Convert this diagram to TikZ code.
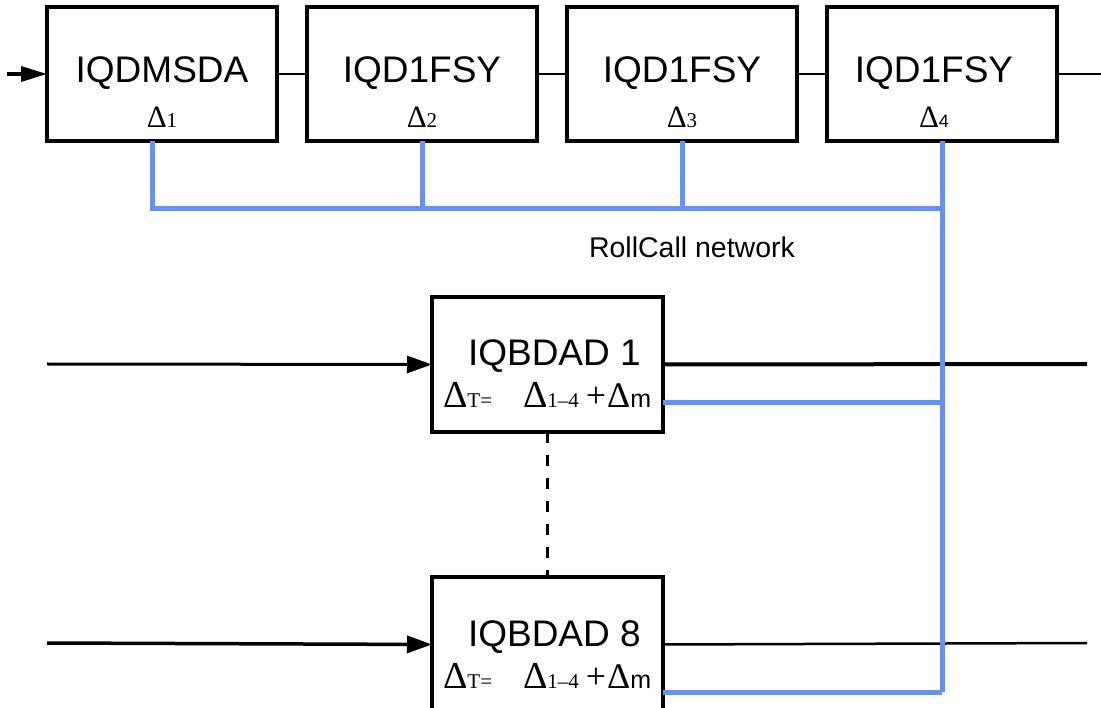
\documentclass[tikz,border=0pt]{standalone}
\usepackage{fontspec}
\setmainfont{Liberation Serif}
\setsansfont{Liberation Sans}
\usetikzlibrary{arrows.meta}
\definecolor{netblue}{RGB}{98,146,255}
\newcommand{\fs}[1]{\fontsize{#1}{#1}\selectfont}

\begin{document}
\begin{tikzpicture}[x=1pt,y=1pt,
    every node/.style={inner sep=0,outer sep=0},
    unit/.style={draw,line width=3.5pt,minimum width=230pt,minimum height=134pt},
    unitname/.style={font=\sffamily\fs{37},anchor=base},
    wire/.style={line width=2.5pt},
    feed/.style={line width=3pt,-{Triangle[length=25pt,width=17pt]}},
    net/.style={netblue,line width=5pt}]
    \useasboundingbox (0,0) rectangle (1101,-708);
    \clip (0,0) rectangle (1101,-708);
    % sources
    \node[unit](t1) at (162,-74) {};
    \node[unit](t2) at (422,-74) {};
    \node[unit](t3) at (682,-74) {};
    \node[unit](t4) at (942,-74) {};
    \node[unitname] at ([yshift=-9pt]t1.center) {IQDMSDA};
    \node[unitname] at ([yshift=-9pt]t2.center) {IQD1FSY};
    \node[unitname] at ([yshift=-9pt]t3.center) {IQD1FSY};
    \node[unitname] at ([xshift=-8pt,yshift=-9pt]t4.center) {IQD1FSY};
    \node[anchor=base] at ([yshift=-54pt]t1.center) {\fs{31}Δ\fs{21}1};
    \node[anchor=base] at ([yshift=-54pt]t2.center) {\fs{31}Δ\fs{21}2};
    \node[anchor=base] at ([yshift=-54pt]t3.center) {\fs{31}Δ\fs{21}3};
    \node[anchor=base] at ([xshift=-8pt,yshift=-54pt]t4.center) {\fs{31}Δ\sffamily\fs{18}4};
    \coordinate(src) at (7,-74);
    \coordinate(out) at (1101,-74);
    \draw[line width=3.5pt,-{Triangle[length=26pt,width=15pt]}] (src) -- (t1.west);
    \draw[wire] (t1.east) -- (t2.west);
    \draw[wire] (t2.east) -- (t3.west);
    \draw[wire] (t3.east) -- (t4.west);
    \draw[wire] (t4.east) -- (out);
    % deskew units
    \node[unit,minimum width=231pt,minimum height=135pt](b1) at (547.5,-364.5) {};
    \node[unit,minimum width=231pt,minimum height=135pt](b8) at (547.5,-644.5) {};
    \node[unitname,anchor=base west] at ([xshift=36pt,yshift=-1.5pt]b1.west) {IQBDAD 1};
    \node[unitname,anchor=base west] at ([xshift=36pt,yshift=-1.5pt]b8.west) {IQBDAD 8};
    \node[anchor=base west] at ([xshift=11pt,yshift=-43.5pt]b1.west) {\fs{38}Δ\fs{21}T=};
    \node[anchor=base west] at ([xshift=91pt,yshift=-43.5pt]b1.west)
        {\fs{38}Δ\fs{21}1–4\hspace{7pt}\fs{36}+\hspace{1pt}Δ\sffamily\fs{25}m};
    \node[anchor=base west] at ([xshift=11pt,yshift=-43.5pt]b8.west) {\fs{38}Δ\fs{21}T=};
    \node[anchor=base west] at ([xshift=91pt,yshift=-43.5pt]b8.west)
        {\fs{38}Δ\fs{21}1–4\hspace{7pt}\fs{36}+\hspace{1pt}Δ\sffamily\fs{25}m};
    \coordinate(a1) at (47,-364);
    \coordinate(a8) at (47,-643);
    \coordinate(o1) at (1087,-364);
    \coordinate(o8) at (1087,-643);
    \draw[feed] (a1) -- (b1.west);
    \draw[feed,line width=3.5pt] (a8) -- (b8.west);
    \draw[line width=4pt] (b1.east) -- (o1);
    \draw[wire] (b8.east) -- (o8);
    \draw[line width=3pt,dash pattern=on 11pt off 12pt] (b1.south) -- (b8.north);
    % RollCall network
    \coordinate(n1) at (152,-209);
    \coordinate(n4) at (942,-209);
    \coordinate(j1) at (942,-403);
    \coordinate(j8) at (942,-692);
    \draw[net] ([xshift=-10pt]t1.south) -- (n1) -- (n4);
    \draw[net] (t2.south) -- (t2.south |- n1);
    \draw[net] (t3.south) -- (t3.south |- n1);
    \draw[net] (t4.south) -- (j8);
    \draw[net] (b1.east |- j1) -- (j1);
    \draw[net] (b8.east |- j8) -- (j8);
    \node[font=\sffamily\fs{28.5},anchor=base] (rc) at (692,-258) {RollCall network};
\end{tikzpicture}
\end{document}
